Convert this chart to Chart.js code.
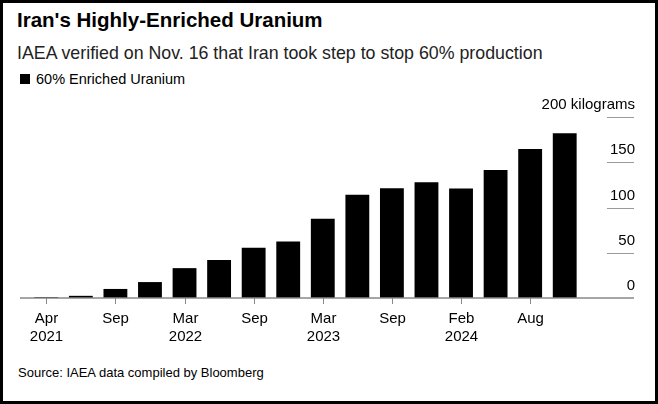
<!DOCTYPE html>
<html>
<head>
<meta charset="utf-8">
<script src="https://cdn.jsdelivr.net/npm/chart.js@4"></script>
<style>
  html, body { margin: 0; padding: 0; background: #fff; }
  #frame { position: absolute; left: 0; top: 0; width: 652px; height: 398px; border: 3px solid #000; }
  .t { position: absolute; font-family: "Liberation Sans", Arial, sans-serif; color: #000; white-space: nowrap; }
  #title { left: 17px; top: 8px; font-size: 20.5px; font-weight: bold; }
  #sub { left: 17px; top: 43px; font-size: 17.8px; color: #222; }
  #legend { left: 20px; top: 71px; font-size: 14.5px; }
  #legend span { display: inline-block; width: 10px; height: 10px; background: #000; margin-right: 6px; vertical-align: 0px; }
  #source { left: 18px; top: 365px; font-size: 13px; }
  canvas { position: absolute; left: 0; top: 0; }
</style>
</head>
<body>
<div id="frame"></div>
<div class="t" id="title">Iran's Highly-Enriched Uranium</div>
<div class="t" id="sub">IAEA verified on Nov. 16 that Iran took step to stop 60% production</div>
<div class="t" id="legend"><span></span>60% Enriched Uranium</div>
<div class="t" id="source">Source: IAEA data compiled by Bloomberg</div>
<canvas id="c" width="658" height="404"></canvas>
<script>
// Data
const tickMonths = ['Apr', '', 'Sep', '', 'Mar', '', 'Sep', '', 'Mar', '', 'Sep', '', 'Feb', '', 'Aug', ''];
const tickYears  = ['2021', '', '', '', '2022', '', '', '', '2023', '', '', '', '2024', '', '', ''];
const uranium = [1, 2.4, 10, 17.6, 33, 42, 55.5, 62.3, 87.5, 114, 121.3, 128, 121, 141.5, 164.7, 182];
const yTicks = [0, 50, 100, 150, 200];
const yLabels = ['0', '50', '100', '150', '200 kilograms'];

// Custom axis drawing: baseline, x tick marks/labels, right-side y labels
const axisPlugin = {
  id: 'bbgAxes',
  afterDraw(chart) {
    const ctx = chart.ctx;
    const x = chart.scales.x;
    const y = chart.scales.y;
    const base = y.getPixelForValue(0);
    ctx.save();
    // y gridline stubs and labels
    ctx.strokeStyle = '#999';
    ctx.lineWidth = 1;
    ctx.fillStyle = '#000';
    ctx.font = '15px "Liberation Sans", Arial, sans-serif';
    ctx.textAlign = 'right';
    ctx.textBaseline = 'middle';
    yTicks.forEach((v, i) => {
      const py = Math.round(y.getPixelForValue(v)) + 0.5;
      if (v > 0) {
        ctx.beginPath();
        ctx.moveTo(607, py);
        ctx.lineTo(634, py);
        ctx.stroke();
      }
      ctx.fillText(yLabels[i], 635, py - 13);
    });
    // baseline
    ctx.strokeStyle = '#888';
    ctx.lineWidth = 1.5;
    ctx.beginPath();
    ctx.moveTo(20, base);
    ctx.lineTo(634, base);
    ctx.stroke();
    // x ticks
    ctx.textAlign = 'center';
    ctx.lineWidth = 1;
    tickMonths.forEach((m, i) => {
      if (!m) return;
      const px = Math.round(x.getPixelForValue(i)) + 0.5;
      ctx.beginPath();
      ctx.moveTo(px, base);
      ctx.lineTo(px, base + 6);
      ctx.stroke();
      ctx.fillText(m, px, base + 21);
      if (tickYears[i]) ctx.fillText(tickYears[i], px, base + 39);
    });
    ctx.restore();
  }
};

new Chart(document.getElementById('c'), {
  type: 'bar',
  data: {
    labels: tickMonths,
    datasets: [{
      label: '60% Enriched Uranium',
      data: uranium,
      backgroundColor: '#000',
      borderWidth: 0,
      barPercentage: 0.69,
      categoryPercentage: 1
    }]
  },
  options: {
    responsive: false,
    animation: false,
    layout: { padding: { left: 29, right: 76, top: 117, bottom: 106 } },
    scales: {
      x: { display: false },
      y: { display: false, min: 0, max: 200 }
    },
    plugins: { legend: { display: false }, tooltip: { enabled: false } }
  },
  plugins: [axisPlugin]
});
</script>
</body>
</html>
